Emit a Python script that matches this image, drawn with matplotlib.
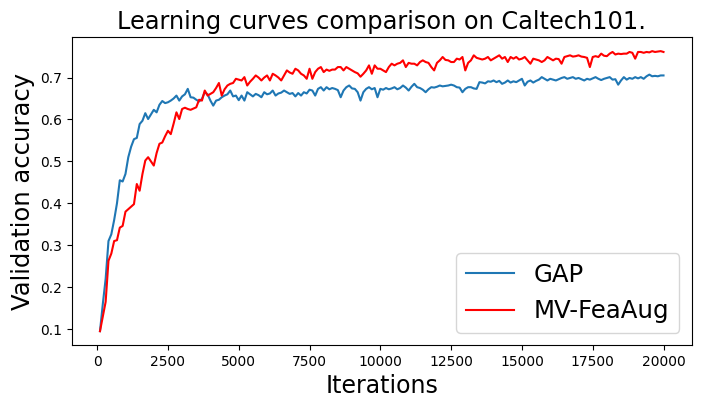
#!/usr/bin/env python
import matplotlib
matplotlib.use('Agg')
import matplotlib.pyplot as plt
import numpy as np

# validation accuracy every 100 iterations
iterations = np.arange(100, 20001, 100)

gap = [
    0.095, 0.16, 0.22, 0.31, 0.326, 0.36, 0.40, 0.455, 0.452, 0.47,
    0.51, 0.535, 0.553, 0.556, 0.589, 0.597, 0.615, 0.601, 0.612, 0.623,
    0.617, 0.635, 0.644, 0.639, 0.641, 0.645, 0.65, 0.657, 0.645, 0.655,
    0.66, 0.673, 0.653, 0.652, 0.647, 0.643, 0.649, 0.665, 0.66, 0.645,
    0.633, 0.645, 0.647, 0.653, 0.657, 0.66, 0.669, 0.655, 0.657, 0.646,
    0.657, 0.645, 0.665, 0.66, 0.655, 0.661, 0.658, 0.653, 0.665, 0.66,
    0.662, 0.669, 0.657, 0.662, 0.664, 0.669, 0.665, 0.661, 0.663, 0.655,
    0.663, 0.657, 0.665, 0.662, 0.671, 0.669, 0.657, 0.673, 0.677, 0.669,
    0.677, 0.672, 0.675, 0.673, 0.67, 0.653, 0.669, 0.677, 0.681, 0.674,
    0.673, 0.665, 0.645, 0.665, 0.673, 0.677, 0.672, 0.675, 0.653, 0.673,
    0.671, 0.675, 0.672, 0.674, 0.677, 0.672, 0.675, 0.681, 0.676, 0.669,
    0.678, 0.685, 0.677, 0.675, 0.671, 0.665, 0.672, 0.677, 0.676, 0.678,
    0.681, 0.679, 0.68, 0.681, 0.683, 0.681, 0.677, 0.676, 0.665, 0.673,
    0.677, 0.677, 0.674, 0.673, 0.689, 0.688, 0.686, 0.691, 0.69, 0.693,
    0.689, 0.692, 0.685, 0.688, 0.693, 0.688, 0.691, 0.689, 0.693, 0.697,
    0.681, 0.69, 0.693, 0.688, 0.692, 0.695, 0.701, 0.697, 0.693, 0.697,
    0.695, 0.693, 0.696, 0.699, 0.701, 0.697, 0.699, 0.701, 0.697, 0.699,
    0.696, 0.693, 0.697, 0.695, 0.698, 0.701, 0.697, 0.694, 0.697, 0.699,
    0.701, 0.695, 0.696, 0.683, 0.693, 0.701, 0.695, 0.699, 0.697, 0.701,
    0.698, 0.701, 0.697, 0.703, 0.707, 0.703, 0.704, 0.703, 0.705, 0.705,
]

mv_feaaug = [
    0.095, 0.13, 0.165, 0.263, 0.28, 0.31, 0.312, 0.342, 0.346, 0.38,
    0.386, 0.392, 0.398, 0.446, 0.43, 0.47, 0.502, 0.51, 0.50, 0.49,
    0.52, 0.542, 0.545, 0.56, 0.573, 0.565, 0.59, 0.617, 0.601, 0.625,
    0.628, 0.625, 0.623, 0.626, 0.629, 0.647, 0.645, 0.669, 0.657, 0.661,
    0.665, 0.675, 0.687, 0.657, 0.672, 0.681, 0.685, 0.687, 0.697, 0.695,
    0.693, 0.701, 0.681, 0.69, 0.697, 0.705, 0.70, 0.693, 0.70, 0.705,
    0.693, 0.709, 0.705, 0.70, 0.693, 0.705, 0.717, 0.712, 0.709, 0.721,
    0.717, 0.709, 0.705, 0.697, 0.721, 0.697, 0.713, 0.721, 0.725, 0.713,
    0.719, 0.716, 0.719, 0.719, 0.725, 0.725, 0.717, 0.725, 0.721, 0.717,
    0.713, 0.71, 0.702, 0.709, 0.717, 0.729, 0.709, 0.729, 0.721, 0.721,
    0.717, 0.713, 0.725, 0.733, 0.729, 0.733, 0.735, 0.741, 0.725, 0.735,
    0.733, 0.733, 0.729, 0.737, 0.741, 0.737, 0.735, 0.725, 0.717, 0.735,
    0.741, 0.749, 0.742, 0.741, 0.737, 0.737, 0.745, 0.743, 0.749, 0.717,
    0.735, 0.741, 0.753, 0.747, 0.745, 0.743, 0.745, 0.749, 0.741, 0.745,
    0.749, 0.753, 0.745, 0.749, 0.737, 0.749, 0.745, 0.749, 0.743, 0.745,
    0.749, 0.741, 0.733, 0.745, 0.743, 0.741, 0.737, 0.741, 0.749, 0.745,
    0.741, 0.745, 0.744, 0.733, 0.749, 0.751, 0.753, 0.75, 0.751, 0.753,
    0.75, 0.749, 0.747, 0.725, 0.749, 0.751, 0.749, 0.757, 0.752, 0.751,
    0.757, 0.761, 0.755, 0.757, 0.756, 0.757, 0.757, 0.761, 0.759, 0.745,
    0.761, 0.761, 0.759, 0.761, 0.76, 0.763, 0.761, 0.762, 0.763, 0.761,
]

fig = plt.figure(figsize=(7.04, 4.08), dpi=100)
ax = fig.add_axes([0.102, 0.154, 0.8805, 0.755])

ax.plot(iterations, gap, color='#1f77b4', label='GAP')
ax.plot(iterations, mv_feaaug, color='red', label='MV-FeaAug')

ax.set_title('Learning curves comparison on Caltech101.', fontsize=17.3)
ax.set_xlabel('Iterations', fontsize=17)
ax.set_ylabel('Validation accuracy', fontsize=17.5)
ax.legend(loc='lower right', fontsize=17.6)

fig.savefig('out.png', dpi=100)
